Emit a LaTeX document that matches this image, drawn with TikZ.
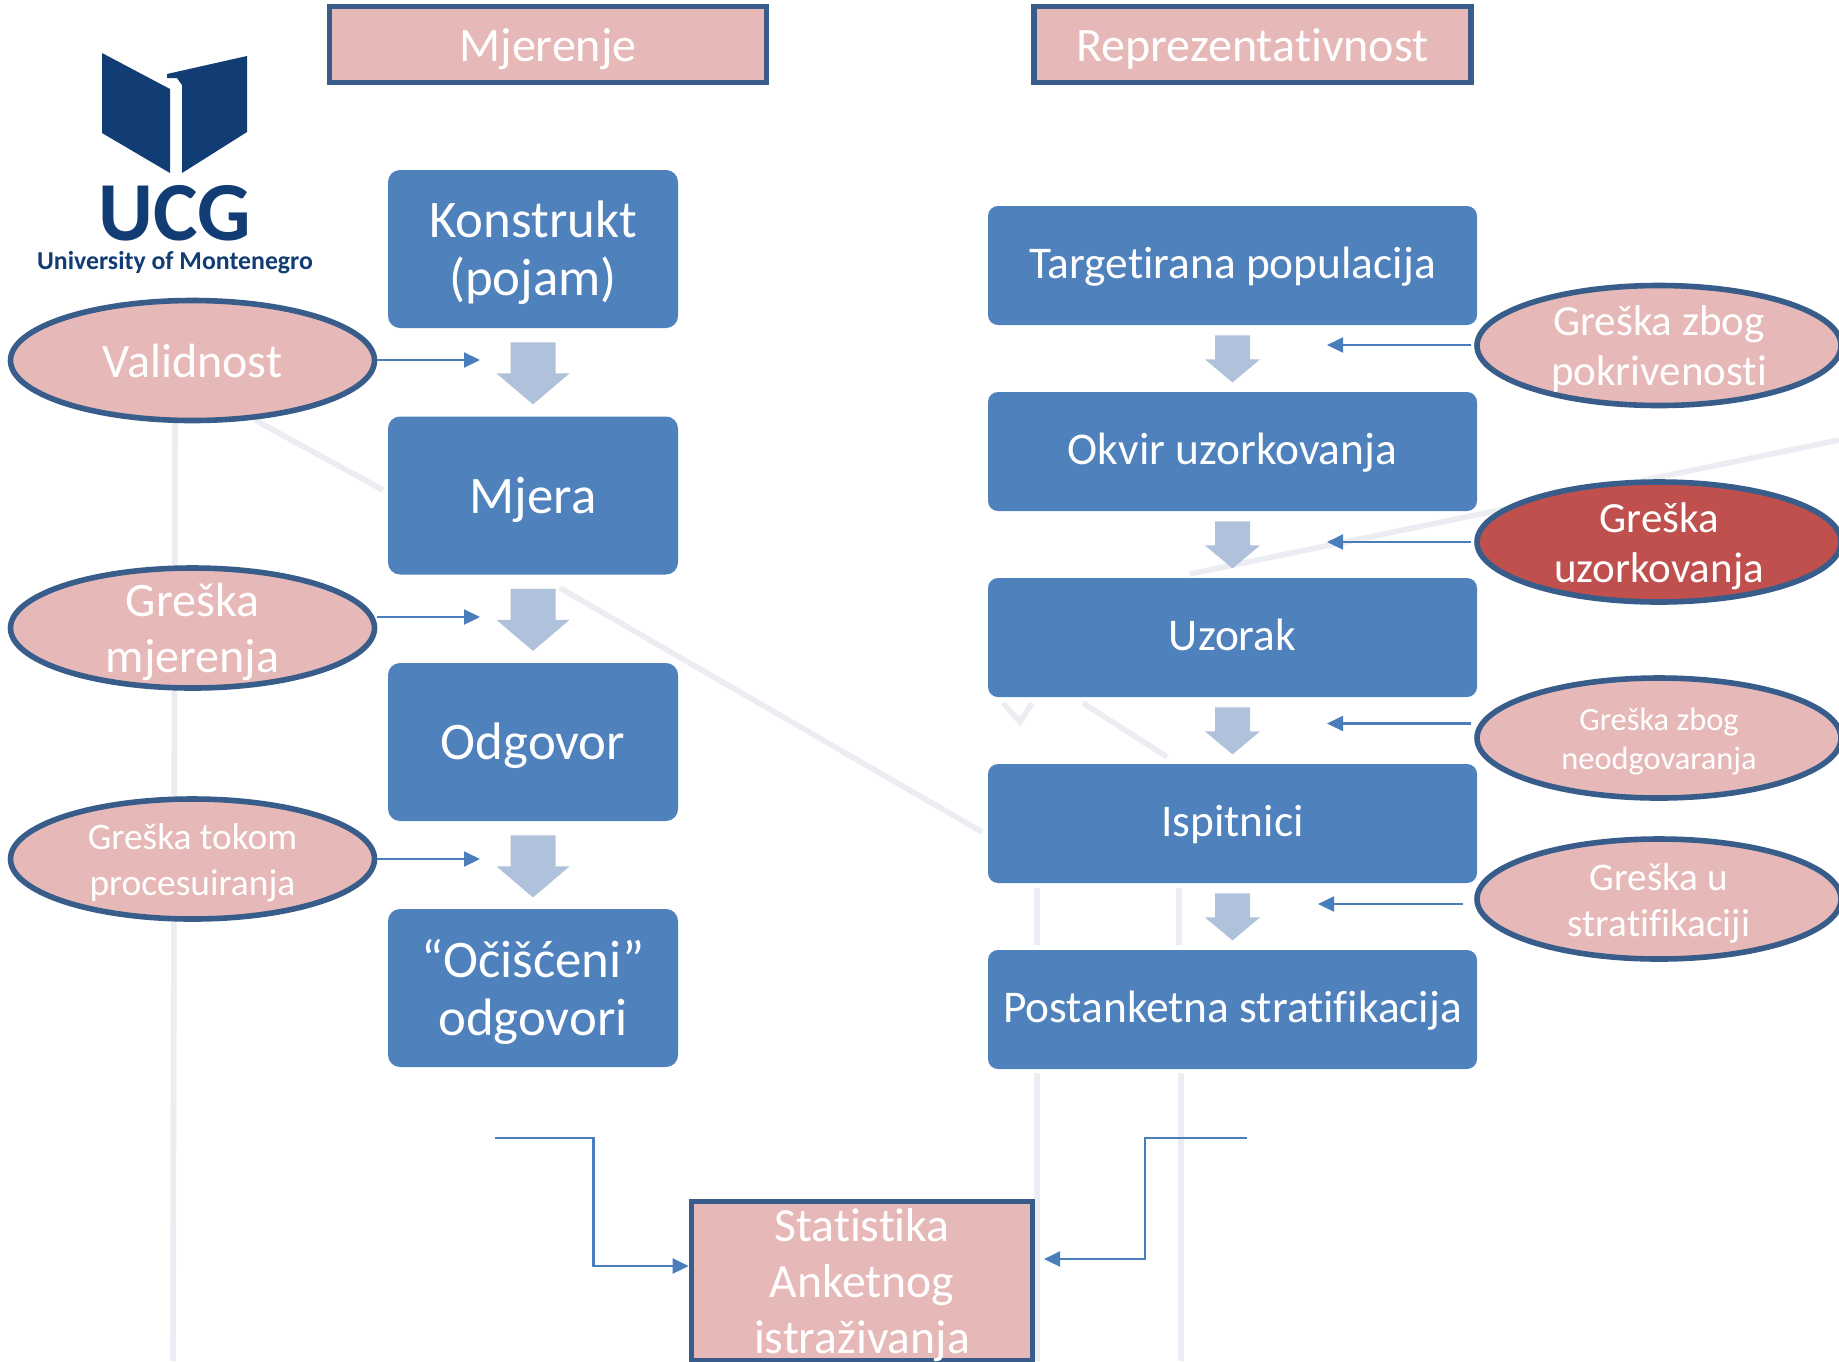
\documentclass[tikz,border=0pt]{standalone}
\usepackage{fontspec}
\setmainfont[RawFeature=-liga]{Carlito}
\usetikzlibrary{shapes.geometric,arrows.meta}
\definecolor{boxblue}{HTML}{4F81BD}
\definecolor{pinkfill}{HTML}{E6B9B8}
\definecolor{edgeblue}{HTML}{385D8A}
\definecolor{redfill}{HTML}{C0504D}
\definecolor{blockcol}{HTML}{B0C1DC}
\definecolor{conncol}{HTML}{4A7EBB}
\definecolor{logoblue}{HTML}{123C74}
\definecolor{ghost}{HTML}{ECEDF2}
\newcommand{\lblraise}{-4.5pt}
\newcommand{\lbl}[3]{\smash{\makebox[0pt]{\raisebox{\lblraise}{\parbox[c]{240pt}{\centering\fontsize{#1}{#2}\selectfont #3\vphantom{j}}}}}}
\newcommand{\blockL}[1]{\fill[blockcol,shift={(#1.south)}] (-22.5,14) -- (22.5,14) -- (22.5,45) -- (36.5,45) -- (0,76) -- (-36.5,45) -- (-22.5,45) -- cycle;}
\newcommand{\blockR}[1]{\fill[blockcol,shift={(#1.south)}] (-17.5,10) -- (17.5,10) -- (17.5,34) -- (27.5,34) -- (0,57) -- (-27.5,34) -- (-17.5,34) -- cycle;}
\tikzset{
  lbox/.style={shape=rectangle,rounded corners=6pt,fill=boxblue,text=white,inner sep=0pt,minimum width=145pt,minimum height=79pt},
  rbox/.style={shape=rectangle,rounded corners=5pt,fill=boxblue,text=white,inner sep=0pt,minimum width=244.5pt,minimum height=59.5pt,execute at begin node={\renewcommand{\lblraise}{-3pt}}},
  hdr/.style={shape=rectangle,fill=pinkfill,draw=edgeblue,line width=2.8pt,text=white,inner sep=0pt,minimum width=218.5pt},
  oval/.style={shape=ellipse,fill=pinkfill,draw=edgeblue,line width=2.8pt,text=white,inner sep=0pt,minimum width=182pt,minimum height=60pt},
  conn/.style={draw=conncol,line width=1.1pt,-{Triangle[length=8pt,width=7.5pt]}},
  backline/.style={draw=ghost,line width=2.8pt},
  logofill/.style={fill=logoblue}
}
\begin{document}
\begin{tikzpicture}[x=0.5pt,y=-0.5pt]
\useasboundingbox (0,0) rectangle (1839,1361);
\clip (0,0) rectangle (1839,1361);
\fill[white] (0,0) rectangle (1839,1361);
% faint background lines
\draw[backline] (175,420) -- (173,1361);
\draw[backline] (255,420) -- (383,490);
\draw[backline] (560,588) -- (982,832);
\draw[backline] (1190,574) -- (1839,440);
\draw[backline] (1003,703) -- (1020,722) -- (1032,703);
\draw[backline] (1083,703) -- (1167,757);
\draw[backline] (1037,888) -- (1037,945);
\draw[backline] (1179,888) -- (1179,945);
\draw[backline] (1037,1073) -- (1037,1361);
\draw[backline] (1181,1073) -- (1181,1361);
% logo
\fill[logofill] (102,53) -- (170,89) -- (170,173) -- (102,133) -- cycle;
\fill[logofill] (167,74) -- (247,56) -- (247,132) -- (182,173) -- (182,85) -- (177,78) -- (167,78) -- cycle;
\node[text=logoblue,inner sep=0pt] (ucg) at (175,213) {\fontsize{42}{42}\selectfont\bfseries UCG};
\node[text=logoblue,inner sep=0pt] (uni) at (175,263) {\fontsize{12.9}{13}\selectfont\bfseries University of Montenegro};
% headers
\node[hdr,minimum height=38pt] (h1) at (548,44.5) {\lbl{24}{28}{\rule{0pt}{0pt}\raisebox{-0.5pt}{Mjerenje}}};
\node[hdr,minimum height=38pt] (h2) at (1252.5,44.5) {\lbl{24}{28}{\raisebox{-0.5pt}{Reprezentativnost}}};
% left chain
\node[lbox] (k) at (533,249) {\lbl{26.4}{29}{Konstrukt\\(pojam)}};
\node[lbox] (m) at (533,495.5) {\lbl{26.4}{29}{Mjera}};
\node[lbox] (o) at (533,742) {\lbl{26.4}{29}{Odgovor}};
\node[lbox] (c) at (533,988) {\lbl{26.4}{29}{“Očišćeni”\\odgovori}};
\blockL{k}\blockL{m}\blockL{o}
% right chain
\node[rbox] (t) at (1232.5,265.5) {\lbl{22.7}{26}{Targetirana populacija}};
\node[rbox] (ok) at (1232.5,451.5) {\lbl{22.7}{26}{Okvir uzorkovanja}};
\node[rbox] (uz) at (1232.5,637.5) {\lbl{22.7}{26}{Uzorak}};
\node[rbox] (is) at (1232.5,823.5) {\lbl{22.7}{26}{Ispitnici}};
\node[rbox] (po) at (1232.5,1009.5) {\lbl{22.7}{26}{Postanketna stratifikacija}};
\blockR{t}\blockR{ok}\blockR{uz}\blockR{is}
% ovals
\node[oval] (val) at (192.5,360.5) {\lbl{24}{28}{Validnost}};
\node[oval] (gm) at (192.5,628) {\lbl{24}{28}{Greška\\mjerenja}};
\node[oval] (gt) at (192.5,859) {\lbl{18.7}{23}{Greška tokom\\procesuiranja}};
\node[oval] (gp) at (1659,345.5) {\lbl{21.5}{25}{Greška zbog\\pokrivenosti}};
\node[oval,fill=redfill] (gu) at (1659,542) {\lbl{21.5}{25}{Greška\\uzorkovanja}};
\node[oval] (gn) at (1659,738) {\lbl{16.2}{19.5}{Greška zbog\\neodgovaranja}};
\node[oval] (gs) at (1659,899) {\lbl{19.6}{23}{Greška u\\stratifikaciji}};
% bottom box
\node[hdr,minimum width=170.5pt,minimum height=79.5pt] (stat) at (862,1281) {\lbl{23.8}{28}{Statistika\\Anketnog\\istraživanja}};
% connectors
\coordinate (tv) at (480,360);
\coordinate (tg) at (480,617);
\coordinate (tt) at (480,859);
\draw[conn] (val.east |- tv) -- (tv);
\draw[conn] (gm.east |- tg) -- (tg);
\draw[conn] (gt.east |- tt) -- (tt);
\coordinate (tp) at (1327,345);
\coordinate (tu) at (1327,542);
\coordinate (tn) at (1327,723.5);
\coordinate (ts) at (1318,904);
\coordinate (sp) at (1471,345);
\coordinate (su) at (1471,542);
\coordinate (sn) at (1471,723.5);
\coordinate (ss) at (1462.5,904);
\draw[conn] (sp) -- (tp);
\draw[conn] (su) -- (tu);
\draw[conn] (sn) -- (tn);
\draw[conn] (ss) -- (ts);
\coordinate (sl) at (495,1138);
\coordinate (sla) at (593.5,1266);
\coordinate (sr) at (1247,1138);
\coordinate (srb) at (1145,1259);
\coordinate (srt) at (1044,1259);
\draw[conn] (sl) -| (sla) -- (sla -| stat.west);
\draw[conn] (sr) -| (srb) -- (srt);
\end{tikzpicture}
\end{document}
